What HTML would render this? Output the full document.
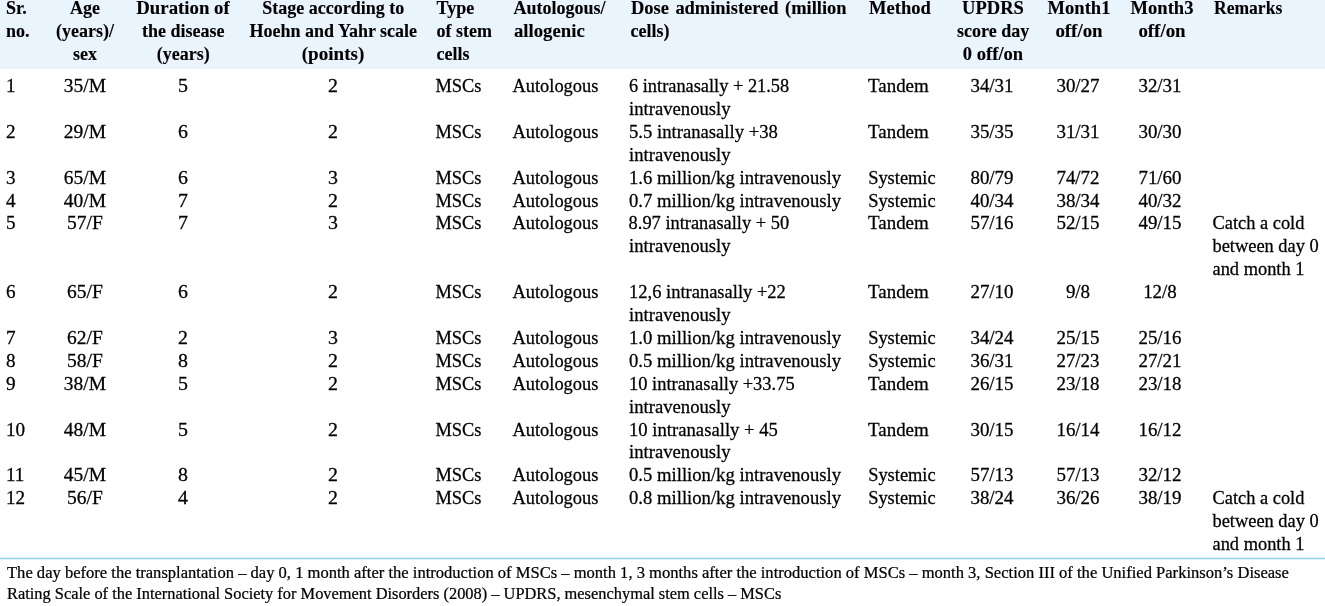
<!DOCTYPE html>
<html><head><meta charset="utf-8"><style>
html,body{margin:0;padding:0;background:#fff;}
body{width:1325px;height:606px;position:relative;overflow:hidden;font-family:"Liberation Serif",serif;color:#000;}
.wrap{position:absolute;left:0;top:0;width:1325px;height:606px;will-change:transform;}
.hd{position:absolute;left:0;top:0;width:1325px;height:68.7px;background:#e9f4fd;}
.ln{position:absolute;left:0;top:558px;width:1325px;height:1px;background:#88d2f2;box-shadow:0 0.5px 0.5px #c4e9f9,0 -0.5px 0.5px #c4e9f9;}
.h,.b,.f{position:absolute;white-space:nowrap;line-height:22.89px;transform-origin:0 0;}
.h{font-weight:bold;-webkit-text-stroke:0.12px #000;font-size:18.0px;}
.b{font-size:18.4px;-webkit-text-stroke:0.26px #000;}
.c{width:300px;text-align:center;transform-origin:50% 0;}
.f{font-size:16.5px;-webkit-text-stroke:0.24px #000;line-height:21.0px;}
</style></head><body>
<div class="wrap">
<div class="hd"></div>
<div class="ln"></div>
<div class="h" style="left:6.00px;top:-2.52px">Sr.</div>
<div class="h" style="left:6.00px;top:20.37px">no.</div>
<div class="h c" style="left:-65.00px;top:-2.52px">Age</div>
<div class="h c" style="left:-65.00px;top:20.37px">(years)/</div>
<div class="h c" style="left:-65.00px;top:43.26px">sex</div>
<div class="h c" style="left:33.20px;top:-2.52px;transform:scaleX(1.0450)">Duration of</div>
<div class="h c" style="left:33.20px;top:20.37px">the disease</div>
<div class="h c" style="left:33.20px;top:43.26px">(years)</div>
<div class="h c" style="left:183.30px;top:-2.52px">Stage according to</div>
<div class="h c" style="left:183.30px;top:20.37px">Hoehn and Yahr scale</div>
<div class="h c" style="left:183.30px;top:43.26px;transform:scaleX(1.0600)">(points)</div>
<div class="h" style="left:436.50px;top:-2.52px">Type</div>
<div class="h" style="left:436.50px;top:20.37px">of stem</div>
<div class="h" style="left:436.50px;top:43.26px">cells</div>
<div class="h" style="left:513.50px;top:-2.52px">Autologous/</div>
<div class="h" style="left:513.50px;top:20.37px;transform:scaleX(1.0400)">allogenic</div>
<div class="h" style="left:630.50px;top:-2.52px;transform:scaleX(1.0250);word-spacing:1.8px">Dose administered (million</div>
<div class="h" style="left:630.50px;top:20.37px">cells)</div>
<div class="h" style="left:869.20px;top:-2.52px;transform:scaleX(1.0300)">Method</div>
<div class="h c" style="left:843.20px;top:-2.52px;transform:scaleX(1.0300)">UPDRS</div>
<div class="h c" style="left:843.20px;top:20.37px">score day</div>
<div class="h c" style="left:843.20px;top:43.26px;transform:scaleX(1.0300)">0 off/on</div>
<div class="h c" style="left:928.70px;top:-2.52px;transform:scaleX(1.0300)">Month1</div>
<div class="h c" style="left:928.70px;top:20.37px;transform:scaleX(1.0500)">off/on</div>
<div class="h c" style="left:1012.10px;top:-2.52px;transform:scaleX(1.0300)">Month3</div>
<div class="h c" style="left:1012.10px;top:20.37px;transform:scaleX(1.0500)">off/on</div>
<div class="h" style="left:1213.50px;top:-2.52px;transform:scaleX(0.9750)">Remarks</div>
<div class="b" style="left:6.00px;top:75.14px;transform:scaleX(1.0400)">1</div>
<div class="b c" style="left:-65.50px;top:75.14px;transform:scaleX(1.0600)">35/M</div>
<div class="b c" style="left:33.10px;top:75.14px;transform:scaleX(1.0800)">5</div>
<div class="b c" style="left:182.80px;top:75.14px;transform:scaleX(1.0800)">2</div>
<div class="b" style="left:435.50px;top:75.14px">MSCs</div>
<div class="b" style="left:512.50px;top:75.14px">Autologous</div>
<div class="b" style="left:628.60px;top:75.14px;transform:scaleX(0.9980)">6 intranasally + 21.58</div>
<div class="b" style="left:628.60px;top:98.03px;transform:scaleX(1.0150)">intravenously</div>
<div class="b" style="left:868.20px;top:75.14px;transform:scaleX(1.0300)">Tandem</div>
<div class="b c" style="left:841.80px;top:75.14px;transform:scaleX(1.0300)">34/31</div>
<div class="b c" style="left:927.80px;top:75.14px;transform:scaleX(1.0300)">30/27</div>
<div class="b c" style="left:1010.40px;top:75.14px;transform:scaleX(1.0300)">32/31</div>
<div class="b" style="left:6.00px;top:120.92px;transform:scaleX(1.0400)">2</div>
<div class="b c" style="left:-65.50px;top:120.92px;transform:scaleX(1.0600)">29/M</div>
<div class="b c" style="left:33.10px;top:120.92px;transform:scaleX(1.0800)">6</div>
<div class="b c" style="left:182.80px;top:120.92px;transform:scaleX(1.0800)">2</div>
<div class="b" style="left:435.50px;top:120.92px">MSCs</div>
<div class="b" style="left:512.50px;top:120.92px">Autologous</div>
<div class="b" style="left:628.60px;top:120.92px;transform:scaleX(1.0150)">5.5 intranasally +38</div>
<div class="b" style="left:628.60px;top:143.81px;transform:scaleX(1.0150)">intravenously</div>
<div class="b" style="left:868.20px;top:120.92px;transform:scaleX(1.0300)">Tandem</div>
<div class="b c" style="left:841.80px;top:120.92px;transform:scaleX(1.0300)">35/35</div>
<div class="b c" style="left:927.80px;top:120.92px;transform:scaleX(1.0300)">31/31</div>
<div class="b c" style="left:1010.40px;top:120.92px;transform:scaleX(1.0300)">30/30</div>
<div class="b" style="left:6.00px;top:166.70px;transform:scaleX(1.0400)">3</div>
<div class="b c" style="left:-65.50px;top:166.70px;transform:scaleX(1.0600)">65/M</div>
<div class="b c" style="left:33.10px;top:166.70px;transform:scaleX(1.0800)">6</div>
<div class="b c" style="left:182.80px;top:166.70px;transform:scaleX(1.0800)">3</div>
<div class="b" style="left:435.50px;top:166.70px">MSCs</div>
<div class="b" style="left:512.50px;top:166.70px">Autologous</div>
<div class="b" style="left:628.60px;top:166.70px;transform:scaleX(1.0150)">1.6 million/kg intravenously</div>
<div class="b" style="left:868.20px;top:166.70px">Systemic</div>
<div class="b c" style="left:841.80px;top:166.70px;transform:scaleX(1.0300)">80/79</div>
<div class="b c" style="left:927.80px;top:166.70px;transform:scaleX(1.0300)">74/72</div>
<div class="b c" style="left:1010.40px;top:166.70px;transform:scaleX(1.0300)">71/60</div>
<div class="b" style="left:6.00px;top:189.59px;transform:scaleX(1.0400)">4</div>
<div class="b c" style="left:-65.50px;top:189.59px;transform:scaleX(1.0600)">40/M</div>
<div class="b c" style="left:33.10px;top:189.59px;transform:scaleX(1.0800)">7</div>
<div class="b c" style="left:182.80px;top:189.59px;transform:scaleX(1.0800)">2</div>
<div class="b" style="left:435.50px;top:189.59px">MSCs</div>
<div class="b" style="left:512.50px;top:189.59px">Autologous</div>
<div class="b" style="left:628.60px;top:189.59px;transform:scaleX(1.0150)">0.7 million/kg intravenously</div>
<div class="b" style="left:868.20px;top:189.59px">Systemic</div>
<div class="b c" style="left:841.80px;top:189.59px;transform:scaleX(1.0300)">40/34</div>
<div class="b c" style="left:927.80px;top:189.59px;transform:scaleX(1.0300)">38/34</div>
<div class="b c" style="left:1010.40px;top:189.59px;transform:scaleX(1.0300)">40/32</div>
<div class="b" style="left:6.00px;top:212.48px;transform:scaleX(1.0400)">5</div>
<div class="b c" style="left:-65.50px;top:212.48px;transform:scaleX(1.0600)">57/F</div>
<div class="b c" style="left:33.10px;top:212.48px;transform:scaleX(1.0800)">7</div>
<div class="b c" style="left:182.80px;top:212.48px;transform:scaleX(1.0800)">3</div>
<div class="b" style="left:435.50px;top:212.48px">MSCs</div>
<div class="b" style="left:512.50px;top:212.48px">Autologous</div>
<div class="b" style="left:628.60px;top:212.48px;transform:scaleX(1.0000)">8.97 intranasally + 50</div>
<div class="b" style="left:628.60px;top:235.37px;transform:scaleX(1.0150)">intravenously</div>
<div class="b" style="left:868.20px;top:212.48px;transform:scaleX(1.0300)">Tandem</div>
<div class="b c" style="left:841.80px;top:212.48px;transform:scaleX(1.0300)">57/16</div>
<div class="b c" style="left:927.80px;top:212.48px;transform:scaleX(1.0300)">52/15</div>
<div class="b c" style="left:1010.40px;top:212.48px;transform:scaleX(1.0300)">49/15</div>
<div class="b" style="left:1212.50px;top:212.48px">Catch a cold</div>
<div class="b" style="left:1212.50px;top:235.37px">between day 0</div>
<div class="b" style="left:1212.50px;top:258.26px">and month 1</div>
<div class="b" style="left:6.00px;top:281.15px;transform:scaleX(1.0400)">6</div>
<div class="b c" style="left:-65.50px;top:281.15px;transform:scaleX(1.0600)">65/F</div>
<div class="b c" style="left:33.10px;top:281.15px;transform:scaleX(1.0800)">6</div>
<div class="b c" style="left:182.80px;top:281.15px;transform:scaleX(1.0800)">2</div>
<div class="b" style="left:435.50px;top:281.15px">MSCs</div>
<div class="b" style="left:512.50px;top:281.15px">Autologous</div>
<div class="b" style="left:628.60px;top:281.15px;transform:scaleX(1.0060)">12,6 intranasally +22</div>
<div class="b" style="left:628.60px;top:304.04px;transform:scaleX(1.0150)">intravenously</div>
<div class="b" style="left:868.20px;top:281.15px;transform:scaleX(1.0300)">Tandem</div>
<div class="b c" style="left:841.80px;top:281.15px;transform:scaleX(1.0300)">27/10</div>
<div class="b c" style="left:927.80px;top:281.15px;transform:scaleX(1.0300)">9/8</div>
<div class="b c" style="left:1010.40px;top:281.15px;transform:scaleX(1.0300)">12/8</div>
<div class="b" style="left:6.00px;top:326.94px;transform:scaleX(1.0400)">7</div>
<div class="b c" style="left:-65.50px;top:326.94px;transform:scaleX(1.0600)">62/F</div>
<div class="b c" style="left:33.10px;top:326.94px;transform:scaleX(1.0800)">2</div>
<div class="b c" style="left:182.80px;top:326.94px;transform:scaleX(1.0800)">3</div>
<div class="b" style="left:435.50px;top:326.94px">MSCs</div>
<div class="b" style="left:512.50px;top:326.94px">Autologous</div>
<div class="b" style="left:628.60px;top:326.94px;transform:scaleX(1.0150)">1.0 million/kg intravenously</div>
<div class="b" style="left:868.20px;top:326.94px">Systemic</div>
<div class="b c" style="left:841.80px;top:326.94px;transform:scaleX(1.0300)">34/24</div>
<div class="b c" style="left:927.80px;top:326.94px;transform:scaleX(1.0300)">25/15</div>
<div class="b c" style="left:1010.40px;top:326.94px;transform:scaleX(1.0300)">25/16</div>
<div class="b" style="left:6.00px;top:349.83px;transform:scaleX(1.0400)">8</div>
<div class="b c" style="left:-65.50px;top:349.83px;transform:scaleX(1.0600)">58/F</div>
<div class="b c" style="left:33.10px;top:349.83px;transform:scaleX(1.0800)">8</div>
<div class="b c" style="left:182.80px;top:349.83px;transform:scaleX(1.0800)">2</div>
<div class="b" style="left:435.50px;top:349.83px">MSCs</div>
<div class="b" style="left:512.50px;top:349.83px">Autologous</div>
<div class="b" style="left:628.60px;top:349.83px;transform:scaleX(1.0150)">0.5 million/kg intravenously</div>
<div class="b" style="left:868.20px;top:349.83px">Systemic</div>
<div class="b c" style="left:841.80px;top:349.83px;transform:scaleX(1.0300)">36/31</div>
<div class="b c" style="left:927.80px;top:349.83px;transform:scaleX(1.0300)">27/23</div>
<div class="b c" style="left:1010.40px;top:349.83px;transform:scaleX(1.0300)">27/21</div>
<div class="b" style="left:6.00px;top:372.72px;transform:scaleX(1.0400)">9</div>
<div class="b c" style="left:-65.50px;top:372.72px;transform:scaleX(1.0600)">38/M</div>
<div class="b c" style="left:33.10px;top:372.72px;transform:scaleX(1.0800)">5</div>
<div class="b c" style="left:182.80px;top:372.72px;transform:scaleX(1.0800)">2</div>
<div class="b" style="left:435.50px;top:372.72px">MSCs</div>
<div class="b" style="left:512.50px;top:372.72px">Autologous</div>
<div class="b" style="left:628.60px;top:372.72px;transform:scaleX(1.0030)">10 intranasally +33.75</div>
<div class="b" style="left:628.60px;top:395.61px;transform:scaleX(1.0150)">intravenously</div>
<div class="b" style="left:868.20px;top:372.72px;transform:scaleX(1.0300)">Tandem</div>
<div class="b c" style="left:841.80px;top:372.72px;transform:scaleX(1.0300)">26/15</div>
<div class="b c" style="left:927.80px;top:372.72px;transform:scaleX(1.0300)">23/18</div>
<div class="b c" style="left:1010.40px;top:372.72px;transform:scaleX(1.0300)">23/18</div>
<div class="b" style="left:6.00px;top:418.50px;transform:scaleX(1.0400)">10</div>
<div class="b c" style="left:-65.50px;top:418.50px;transform:scaleX(1.0600)">48/M</div>
<div class="b c" style="left:33.10px;top:418.50px;transform:scaleX(1.0800)">5</div>
<div class="b c" style="left:182.80px;top:418.50px;transform:scaleX(1.0800)">2</div>
<div class="b" style="left:435.50px;top:418.50px">MSCs</div>
<div class="b" style="left:512.50px;top:418.50px">Autologous</div>
<div class="b" style="left:628.60px;top:418.50px;transform:scaleX(1.0150)">10 intranasally + 45</div>
<div class="b" style="left:628.60px;top:441.38px;transform:scaleX(1.0150)">intravenously</div>
<div class="b" style="left:868.20px;top:418.50px;transform:scaleX(1.0300)">Tandem</div>
<div class="b c" style="left:841.80px;top:418.50px;transform:scaleX(1.0300)">30/15</div>
<div class="b c" style="left:927.80px;top:418.50px;transform:scaleX(1.0300)">16/14</div>
<div class="b c" style="left:1010.40px;top:418.50px;transform:scaleX(1.0300)">16/12</div>
<div class="b" style="left:6.00px;top:464.27px;transform:scaleX(1.0400)">11</div>
<div class="b c" style="left:-65.50px;top:464.27px;transform:scaleX(1.0600)">45/M</div>
<div class="b c" style="left:33.10px;top:464.27px;transform:scaleX(1.0800)">8</div>
<div class="b c" style="left:182.80px;top:464.27px;transform:scaleX(1.0800)">2</div>
<div class="b" style="left:435.50px;top:464.27px">MSCs</div>
<div class="b" style="left:512.50px;top:464.27px">Autologous</div>
<div class="b" style="left:628.60px;top:464.27px;transform:scaleX(1.0150)">0.5 million/kg intravenously</div>
<div class="b" style="left:868.20px;top:464.27px">Systemic</div>
<div class="b c" style="left:841.80px;top:464.27px;transform:scaleX(1.0300)">57/13</div>
<div class="b c" style="left:927.80px;top:464.27px;transform:scaleX(1.0300)">57/13</div>
<div class="b c" style="left:1010.40px;top:464.27px;transform:scaleX(1.0300)">32/12</div>
<div class="b" style="left:6.00px;top:487.16px;transform:scaleX(1.0400)">12</div>
<div class="b c" style="left:-65.50px;top:487.16px;transform:scaleX(1.0600)">56/F</div>
<div class="b c" style="left:33.10px;top:487.16px;transform:scaleX(1.0800)">4</div>
<div class="b c" style="left:182.80px;top:487.16px;transform:scaleX(1.0800)">2</div>
<div class="b" style="left:435.50px;top:487.16px">MSCs</div>
<div class="b" style="left:512.50px;top:487.16px">Autologous</div>
<div class="b" style="left:628.60px;top:487.16px;transform:scaleX(1.0150)">0.8 million/kg intravenously</div>
<div class="b" style="left:868.20px;top:487.16px">Systemic</div>
<div class="b c" style="left:841.80px;top:487.16px;transform:scaleX(1.0300)">38/24</div>
<div class="b c" style="left:927.80px;top:487.16px;transform:scaleX(1.0300)">36/26</div>
<div class="b c" style="left:1010.40px;top:487.16px;transform:scaleX(1.0300)">38/19</div>
<div class="b" style="left:1212.50px;top:487.16px">Catch a cold</div>
<div class="b" style="left:1212.50px;top:510.05px">between day 0</div>
<div class="b" style="left:1212.50px;top:532.94px">and month 1</div>
<div class="f" style="left:7px;top:562.23px;transform:scaleX(1.0030)">The day before the transplantation – day 0, 1 month after the introduction of MSCs – month 1, 3 months after the introduction of MSCs – month 3, Section III of the Unified Parkinson’s Disease</div>
<div class="f" style="left:7px;top:583.23px;transform:scaleX(0.9933)">Rating Scale of the International Society for Movement Disorders (2008) – UPDRS, mesenchymal stem cells – MSCs</div>
</div>
</body></html>
